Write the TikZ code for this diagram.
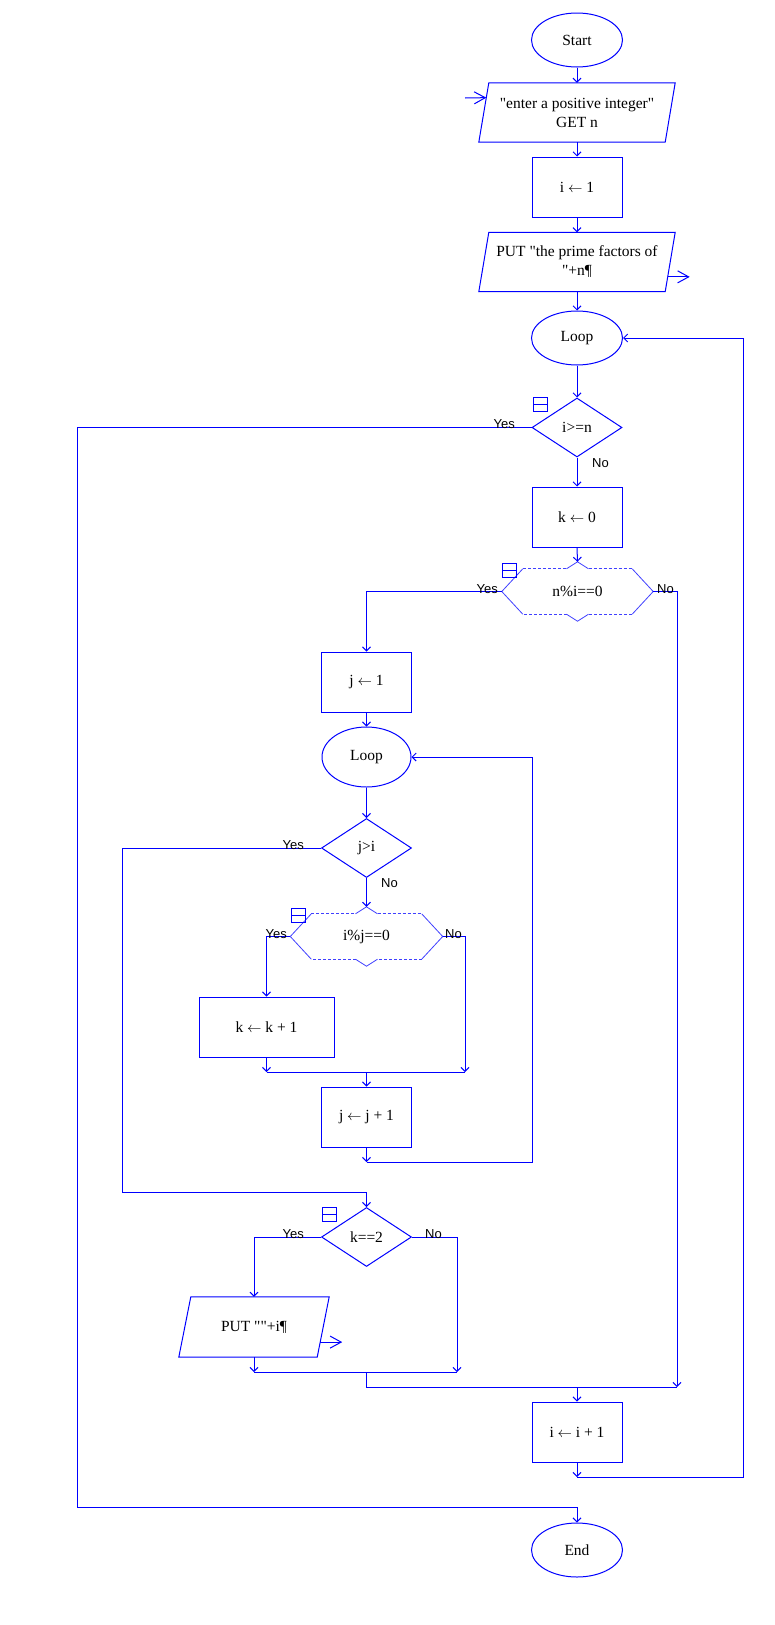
\documentclass[tikz,border=0pt]{standalone}
\usepackage{fontspec}
\newfontfamily\flowfont{Liberation Serif}
\newfontfamily\lblfont{Liberation Sans}
\usetikzlibrary{shapes.geometric,arrows.meta,calc}

\begin{document}
\begin{tikzpicture}[x=1pt,y=-1pt,>={Straight Barb[length=4pt,width=8pt]},
    every node/.style={font=\flowfont\fontsize{15.5}{19}\selectfont}]
        \tikzstyle{flow}=[draw=blue,line width=1pt]
        \tikzstyle{term}=[ellipse,flow,minimum width=91pt,minimum height=54pt,inner sep=0pt]
        \tikzstyle{box}=[rectangle,flow,minimum width=90pt,minimum height=60pt,inner sep=0pt]
        \tikzstyle{io}=[rectangle,minimum width=186pt,minimum height=59pt,inner sep=0pt,align=center]
        \tikzstyle{test}=[diamond,flow,minimum width=90pt,minimum height=59pt,inner sep=0pt]
        \tikzstyle{case}=[rectangle,minimum width=151pt,minimum height=45pt,inner sep=0pt]
        \tikzstyle{edge}=[blue!75,line width=0.8pt]
        \tikzstyle{wire}=[blue,line width=1pt]
        \tikzstyle{port}=[wire,->,>={Straight Barb[length=11pt,width=12pt]}]
        \tikzstyle{lbl}=[font=\lblfont\fontsize{13}{13}\selectfont,inner sep=0pt]
        \tikzstyle{icon}=[blue,line width=1pt]

        \useasboundingbox (0,0) rectangle (775,1625);

        % main column
        \node[term] (start) at (577,40) {Start};
        \node[io] (input) at (577,112.5) {"enter a positive integer"\\GET n};
        \node[box] (init) at (577,187) {i $\leftarrow$ 1};
        \node[io] (put1) at (577,262) {PUT "the prime factors of\\"+n¶};
        \node[term] (loop1) at (577,338) {Loop};
        \node[test] (d1) at (577,427.5) {i>=n};
        \node[box] (kzero) at (577,517) {k $\leftarrow$ 0};
        \node[case] (hex1) at (577.5,591.5) {n\%i==0};

        % inner loop
        \node[box] (jone) at (366.5,682) {j $\leftarrow$ 1};
        \node[term,minimum width=89pt,minimum height=60pt] (loop2) at (366.5,757) {Loop};
        \node[test] (d2) at (366.5,848) {j>i};
        \node[case,minimum width=152pt] (hex2) at (366.5,936.5) {i\%j==0};
        \node[box,minimum width=135pt] (kinc) at (266.5,1027) {k $\leftarrow$ k + 1};
        \node[box] (jinc) at (366.5,1117) {j $\leftarrow$ j + 1};
        \node[test] (d3) at (366.5,1237) {k==2};
        \node[io,minimum width=138pt,minimum height=60pt] (put2) at (254,1327) {PUT ""+i¶};

        \node[box] (iinc) at (577,1432) {i $\leftarrow$ i + 1};
        \node[term] (stop) at (577,1550) {End};

        % slanted in/out outlines
        \foreach \p/\s in {input/5, put1/5, put2/6} {
                \coordinate (\p-tl) at ([xshift=\s pt]\p.north west);
                \coordinate (\p-tr) at ([xshift=\s pt]\p.north east);
                \coordinate (\p-br) at ([xshift=-\s pt]\p.south east);
                \coordinate (\p-bl) at ([xshift=-\s pt]\p.south west);
                \draw[flow] (\p-tl) -- (\p-tr) -- (\p-br) -- (\p-bl) -- cycle;
        }

        % case outlines
        \foreach \h in {hex1,hex2} {
                \draw[edge] (\h.west) -- ([xshift=21pt]\h.north west);
                \draw[edge,dash pattern=on 3pt off 2pt] ([xshift=21pt]\h.north west) -- ([xshift=-11pt]\h.north);
                \draw[edge] ([xshift=-11pt]\h.north) -- ([yshift=7pt]\h.north) -- ([xshift=11pt]\h.north);
                \draw[edge,dash pattern=on 3pt off 2pt] ([xshift=11pt]\h.north) -- ([xshift=-21pt]\h.north east);
                \draw[edge] ([xshift=-21pt]\h.north east) -- (\h.east) -- ([xshift=-21pt]\h.south east);
                \draw[edge,dash pattern=on 3pt off 2pt] ([xshift=-21pt]\h.south east) -- ([xshift=11pt]\h.south);
                \draw[edge] ([xshift=11pt]\h.south) -- ([yshift=-7pt]\h.south) -- ([xshift=-11pt]\h.south);
                \draw[edge,dash pattern=on 3pt off 2pt] ([xshift=-11pt]\h.south) -- ([xshift=21pt]\h.south west);
                \draw[edge] ([xshift=21pt]\h.south west) -- (\h.west);
        }

        % straight links
        \foreach \from/\to in {start/input, input/init, init/put1, put1/loop1, loop1/d1, d1/kzero, jone/loop2, loop2/d2}
                \draw[wire,->] (\from.south) -- (\to.north);
        \draw[wire,->] (kzero.south) -- ([yshift=7pt]hex1.north);
        \draw[wire,->] (d2.south) -- ([yshift=7pt]hex2.north);

        % joins and rails
        \coordinate (yesrail) at (77,1507);
        \coordinate (jrail) at (122,1192);
        \coordinate (join1) at (465,1072);
        \coordinate (join2) at (366.5,1162);
        \coordinate (back2) at (532,1162);
        \coordinate (join3) at (457,1372);
        \coordinate (join4) at (677,1387);
        \coordinate (join5) at (577,1477);
        \coordinate (back1) at (743,1477);

        \draw[wire,->] (d1.west) -| (yesrail) -| (stop.north);
        \draw[wire,->] (hex1.west) -| (jone.north);
        \draw[wire,->] (hex1.east) -| (join4);
        \draw[wire,->] (d2.west) -| (jrail) -| (d3.north);
        \draw[wire,->] (hex2.west) -| (kinc.north);
        \draw[wire,->] (hex2.east) -| (join1);
        \draw[wire,->] (kinc.south) -- (kinc.south |- join1);
        \draw[wire] (kinc.south |- join1) -- (join1);
        \draw[wire,->] (jinc.north |- join1) -- (jinc.north);
        \draw[wire,->] (jinc.south) -- (join2);
        \draw[wire,->] (join2) -- (back2) |- (loop2.east);
        \draw[wire,->] (d3.west) -| (put2.north);
        \draw[wire,->] (d3.east) -| (join3);
        \draw[wire,->] (put2.south) -- (put2.south |- join3);
        \draw[wire] (put2.south |- join3) -- (join3);
        \draw[wire] (d3.south |- join3) |- (join4);
        \draw[wire,->] (iinc.north |- join4) -- (iinc.north);
        \draw[wire,->] (iinc.south) -- (join5);
        \draw[wire,->] (join5) -- (back1) |- (loop1.east);

        % in and out ports
        \coordinate (inport) at (465,98);
        \draw[port] (inport) -- ($(input-bl)!0.75!(input-tl)$);
        \draw[port] ($(put1-br)!0.25!(put1-tr)$) -- ++(22,0) coordinate (outport1);
        \draw[port] ($(put2-br)!0.25!(put2-tr)$) -- ++(22,0) coordinate (outport2);

        % collapse marks
        \foreach \x/\y in {533/397, 502/563, 291/908, 322/1207} {
                \draw[icon] (\x,\y) rectangle ++(14,14);
                \draw[icon] (\x,\y+7) -- ++(14,0);
        }

        % branch labels
        \foreach \nm/\x/\y in {yes1/515/428, yes2/498/593, yes3/304/849, yes4/287/938, yes5/304/1238}
                \node[lbl,anchor=base east] (\nm) at (\x,\y) {Yes};
        \foreach \nm/\x/\y in {no1/592/467, no2/657/593, no3/381/887, no4/445/938, no5/425/1238}
                \node[lbl,anchor=base west] (\nm) at (\x,\y) {No};
\end{tikzpicture}
\end{document}
